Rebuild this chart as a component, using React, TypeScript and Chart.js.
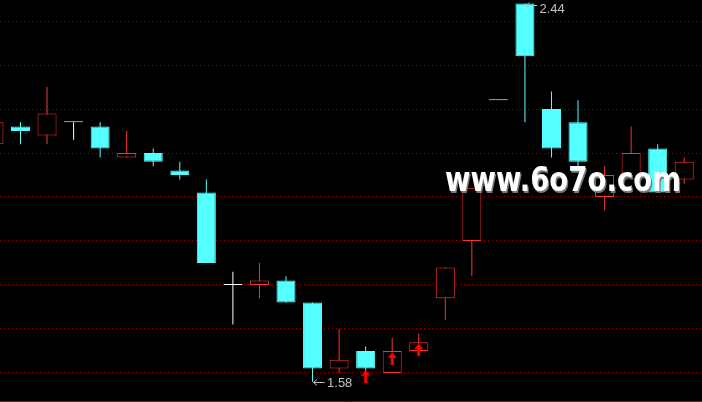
import React, { useEffect, useRef } from "react";
import { Chart, registerables } from "chart.js";

Chart.register(...registerables);

// OHLC values, one per trading day (left to right)
const opens = [2.12, 2.16, 2.14, 2.17, 2.16, 2.09, 2.10, 2.06, 2.01, 1.80, 1.80, 1.81, 1.76, 1.61, 1.65, 1.60, 1.65, 1.77, 1.90, 2.22, 2.44, 2.20, 2.17, 2.00, 2.04, 2.11, 2.04];
const closes = [2.17, 2.15, 2.19, 2.17, 2.11, 2.10, 2.08, 2.05, 1.85, 1.80, 1.81, 1.76, 1.61, 1.63, 1.61, 1.65, 1.67, 1.84, 2.02, 2.22, 2.32, 2.11, 2.08, 2.05, 2.10, 2.01, 2.08];
const highs = [2.17, 2.17, 2.25, 2.17, 2.17, 2.15, 2.11, 2.08, 2.04, 1.83, 1.85, 1.82, 1.76, 1.70, 1.66, 1.68, 1.69, 1.84, 2.02, 2.22, 2.44, 2.24, 2.22, 2.07, 2.16, 2.12, 2.09];
const lows = [2.12, 2.12, 2.12, 2.13, 2.09, 2.09, 2.07, 2.04, 1.85, 1.71, 1.77, 1.76, 1.58, 1.60, 1.60, 1.60, 1.65, 1.72, 1.82, 2.22, 2.17, 2.09, 2.07, 1.97, 2.04, 2.01, 2.03];
// days with a buy-signal arrow
const signalDays = [14, 15, 16];
const WATERMARK = "www.6o7o.com";

const RED = "#FF3232";
const CYAN = "#54FFFF";
const WHITE = "#FFFFFF";
const GRID = "#A00000";
const LABEL = "#C0C0C0";

export default function App() {
  const ref = useRef<HTMLCanvasElement>(null);

  useEffect(() => {
    const canvas = ref.current!;
    const idx = opens.map((_, i) => i);
    const colorOf = (i: number) =>
      closes[i] > opens[i] ? RED : closes[i] < opens[i] ? CYAN : WHITE;
    const fillOf = (i: number) => (closes[i] > opens[i] ? "#000000" : colorOf(i));

    const bodies = idx.map((i) => ({ x: i, y: [opens[i], closes[i]] }));
    const wicks = idx.map((i) => ({ x: i, y: [lows[i], highs[i]] }));
    const arrows = signalDays.map((i) => ({ x: i, y: closes[i] }));

    // arrow glyph: tip sits at vertical centre (+1px) of this image
    const arrowImg = document.createElement("canvas");
    arrowImg.width = 9;
    arrowImg.height = 28;
    const a = arrowImg.getContext("2d")!;
    a.fillStyle = "#FF0000";
    a.beginPath();
    a.moveTo(4.5, 15);
    a.lineTo(9, 21);
    a.lineTo(0, 21);
    a.closePath();
    a.fill();
    a.fillRect(3, 21, 3, 7);

    const hiIdx = highs.indexOf(Math.max(...highs));
    const loIdx = lows.indexOf(Math.min(...lows));

    const labelPlugin = {
      id: "hiLoLabels",
      afterDatasetsDraw(chart: any) {
        const ctx = chart.ctx as CanvasRenderingContext2D;
        const xs = chart.scales.x;
        const ys = chart.scales.y;
        const draw = (i: number, v: number) => {
          const x = xs.getPixelForValue(i);
          const py = ys.getPixelForValue(v);
          const ay = Math.round(Math.max(py, 4.5)) + 0.5;
          ctx.save();
          ctx.strokeStyle = LABEL;
          ctx.lineWidth = 1;
          ctx.beginPath();
          ctx.moveTo(x + 1, ay);
          ctx.lineTo(x + 12, ay);
          ctx.moveTo(x + 4.5, ay - 3);
          ctx.lineTo(x + 1, ay);
          ctx.lineTo(x + 4.5, ay + 3);
          ctx.stroke();
          ctx.fillStyle = LABEL;
          ctx.font = '13px "Liberation Sans"';
          ctx.textBaseline = "alphabetic";
          ctx.textAlign = "left";
          ctx.fillText(v.toFixed(2), x + 14.5, Math.max(py + 5.5, 13.3));
          ctx.restore();
        };
        draw(hiIdx, highs[hiIdx]);
        draw(loIdx, lows[loIdx]);
      },
    };

    const watermarkPlugin = {
      id: "watermark",
      afterDraw(chart: any) {
        const ctx = chart.ctx as CanvasRenderingContext2D;
        ctx.save();
        ctx.font = 'bold 33px "DejaVu Sans"';
        ctx.textBaseline = "alphabetic";
        const w = ctx.measureText(WATERMARK).width;
        ctx.translate(445, 191);
        ctx.scale(236 / w, 1);
        ctx.fillStyle = "#7A7A7A";
        ctx.fillText(WATERMARK, 1.5, 1.5);
        ctx.fillStyle = "#FFFFFF";
        ctx.fillText(WATERMARK, 0, 0);
        ctx.restore();
      },
    };

    const chart = new Chart(canvas, {
      type: "bar",
      data: {
        datasets: [
          {
            type: "scatter",
            data: arrows,
            pointStyle: arrowImg,
            order: 0,
          } as any,
          {
            data: bodies,
            backgroundColor: idx.map(fillOf),
            borderColor: idx.map(colorOf),
            borderWidth: 1,
            borderSkipped: false,
            barThickness: 19,
            minBarLength: 1,
            grouped: false,
            inflateAmount: 0,
            order: 1,
          } as any,
          {
            data: wicks,
            backgroundColor: idx.map(colorOf),
            borderWidth: 0,
            barThickness: 1,
            grouped: false,
            inflateAmount: 0,
            order: 2,
          } as any,
        ],
      },
      options: {
        animation: false,
        responsive: false,
        devicePixelRatio: 1,
        layout: { autoPadding: false, padding: { top: 0, left: 0, right: 0, bottom: 1 } },
        plugins: { legend: { display: false }, tooltip: { enabled: false } },
        events: [],
        scales: {
          x: {
            type: "linear",
            offset: false,
            min: 0.228,
            max: 26.669,
            ticks: { display: false },
            grid: { display: false, drawTicks: false },
            border: { display: true, color: GRID, width: 1 },
          },
          y: {
            type: "linear",
            min: 1.53636,
            max: 2.44773,
            ticks: { display: false, stepSize: 0.1, includeBounds: false },
            grid: { color: GRID, lineWidth: 1, drawTicks: false },
            border: { display: false, dash: [1, 3] },
          },
        },
      } as any,
      plugins: [labelPlugin, watermarkPlugin],
    });
    return () => chart.destroy();
  }, []);

  return (
    <div
      style={{
        position: "fixed",
        left: 0,
        top: 0,
        width: 702,
        height: 402,
        background: "#000000",
        overflow: "hidden",
      }}
    >
      <canvas ref={ref} width={702} height={402} style={{ display: "block" }} />
    </div>
  );
}
